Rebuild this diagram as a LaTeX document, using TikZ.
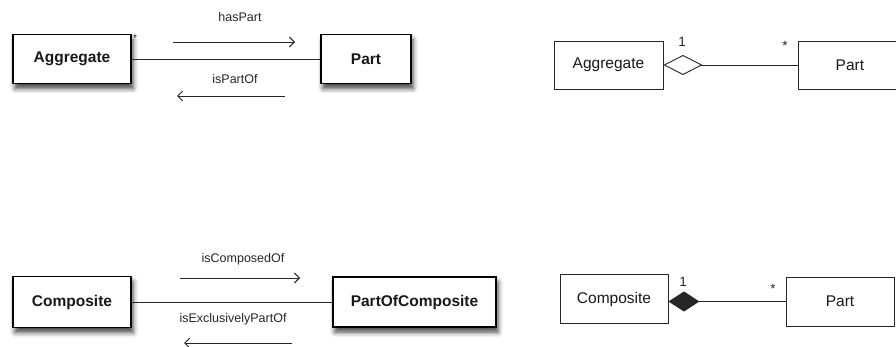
\documentclass[tikz,border=0pt]{standalone}
\usepackage{fontspec}
\setmainfont{Liberation Sans}
\usetikzlibrary{arrows.meta,shadows.blur}

\tikzset{
  classbold/.style={draw=black, line width=1.3pt, fill=white, text=black!90,
    font=\fontsize{15.5}{18}\selectfont\bfseries, inner sep=0pt,
    blur shadow={shadow xshift=2pt, shadow yshift=-5pt, shadow blur radius=5pt, shadow opacity=75}},
  classplain/.style={draw=black!85, line width=0.9pt, fill=white, text=black!90,
    font=\fontsize{15.5}{18}\selectfont, inner sep=0pt},
  rolelabel/.style={font=\fontsize{12.5}{15}\selectfont, text=black!85, inner sep=0pt},
  mult/.style={font=\fontsize{13.5}{16}\selectfont, text=black!85, inner sep=0pt},
  link/.style={draw=black!85, line width=0.9pt},
  navarrow/.style={draw=black!85, line width=0.9pt, -{Straight Barb[length=5pt,width=10pt]}},
}

\begin{document}
\begin{tikzpicture}[x=1pt, y=-1pt]
  \useasboundingbox (0,0) rectangle (896,347);

  % ---- aggregation, role view ----
  \node[classbold, minimum width=118pt, minimum height=49pt] (aggA) at (72,59) {Aggregate};
  \node[classbold, minimum width=90pt, minimum height=49pt] (partA) at (366,59) {Part};
  \draw[link] (aggA) -- (partA);
  \node[mult, font=\fontsize{10}{12}\selectfont] (starA) at (135,38) {*};
  \node[rolelabel] (hasPart) at (240,17) {hasPart};
  \node[rolelabel] (isPartOf) at (235,79) {isPartOf};
  \coordinate (hpS) at (173,42);
  \coordinate (hpE) at (295,42);
  \coordinate (ipS) at (285,96);
  \coordinate (ipE) at (177,96);
  \draw[navarrow] (hpS) -- (hpE);
  \draw[navarrow] (ipS) -- (ipE);

  % ---- aggregation, UML view ----
  \node[classplain, minimum width=109pt, minimum height=48pt] (aggB) at (608.5,65) {Aggregate};
  \node[classplain, minimum width=104pt, minimum height=48pt, anchor=west] (partB) at (797.5,65) {Part};
  \draw[link, {Diamond[open, length=39pt, width=20pt, line width=0.9pt]}-] (aggB) -- (partB);
  \node[mult] (oneB) at (682,42) {1};
  \node[mult] (starB) at (785,46) {*};

  % ---- composition, role view ----
  \node[classbold, minimum width=118pt, minimum height=51pt] (compC) at (72,302) {Composite};
  \node[classbold, minimum width=163pt, minimum height=50pt] (pocC) at (414.5,302) {PartOfComposite};
  \draw[link] (compC) -- (pocC);
  \node[rolelabel] (isComposedOf) at (243,259) {isComposedOf};
  \node[rolelabel] (isExcl) at (233,319) {isExclusivelyPartOf};
  \coordinate (icS) at (180,278);
  \coordinate (icE) at (300,278);
  \coordinate (iePS) at (292,343);
  \coordinate (iePE) at (184,343);
  \draw[navarrow] (icS) -- (icE);
  \draw[navarrow] (iePS) -- (iePE);

  % ---- composition, UML view ----
  \node[classplain, minimum width=108pt, minimum height=49pt] (compD) at (614,299) {Composite};
  \node[classplain, minimum width=108pt, minimum height=49pt] (partD) at (840,301.5) {Part};
  \draw[link, {Diamond[length=31pt, width=20pt, line width=0.9pt]}-] (compD.east |- partD.west) -- (partD.west);
  \node[mult] (oneD) at (683,282) {1};
  \node[mult] (starD) at (773,289) {*};
\end{tikzpicture}
\end{document}
